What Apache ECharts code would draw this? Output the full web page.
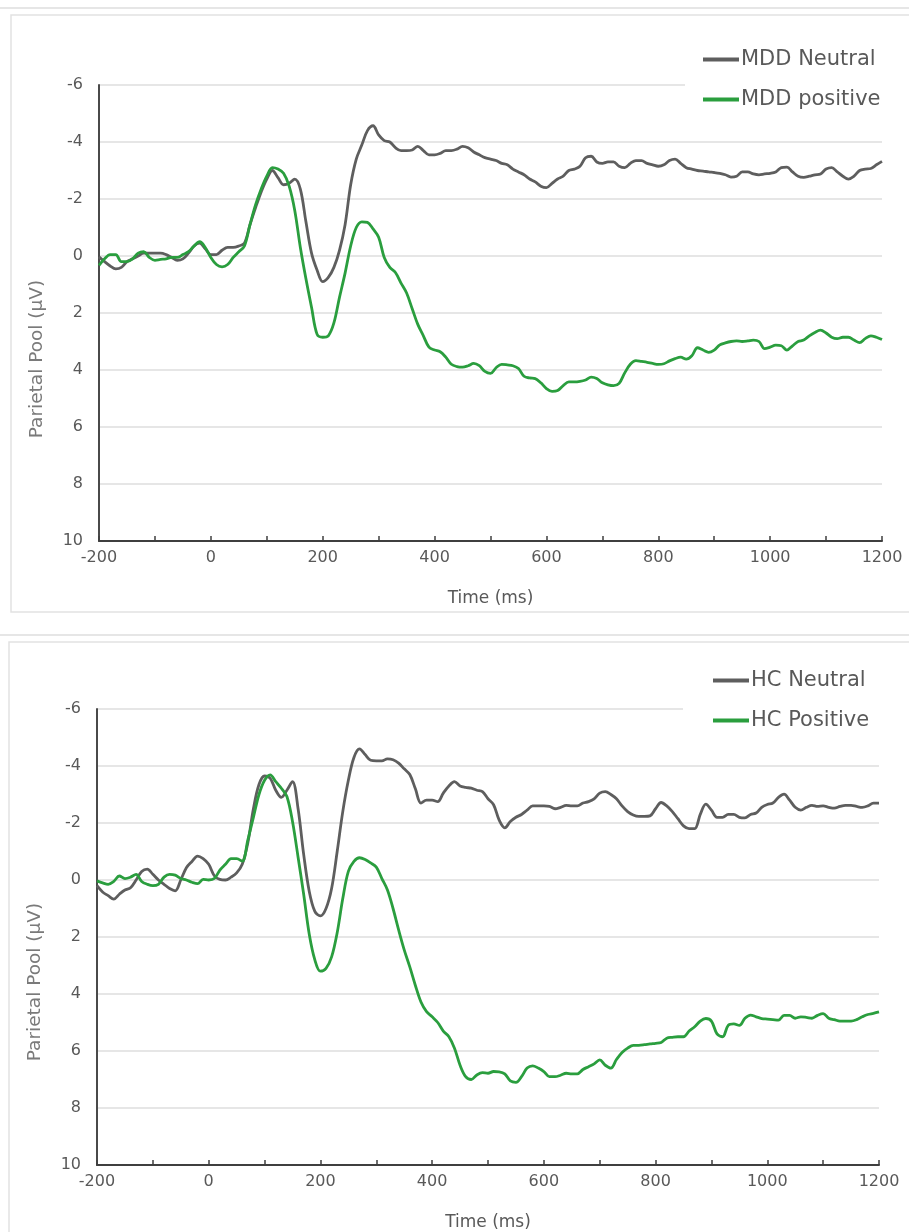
<!DOCTYPE html>
<html>
<head>
<meta charset="utf-8">
<title>Parietal Pool ERP</title>
<script src="https://cdn.jsdelivr.net/npm/echarts@6/dist/echarts.min.js"></script>
<style>
  html, body { margin: 0; padding: 0; background: #fff; }
  #chart { width: 909px; height: 1232px; }
</style>
</head>
<body>
<div id="chart"></div>
<script>
// Sampling grid: -200 ms to 1200 ms every 10 ms (141 samples)
const TIMES = Array.from({ length: 141 }, (_, i) => -200 + i * 10);

const X_TICKS = [-200, 0, 200, 400, 600, 800, 1000, 1200];
const Y_TICKS = [-6, -4, -2, 0, 2, 4, 6, 8, 10];

// Parietal pool amplitude (µV), MDD group
const mddNeutral = [
  0.03, 0.2, 0.35, 0.45, 0.4, 0.2, 0.1, 0.0, -0.1, -0.1,
  -0.1, -0.1, -0.05, 0.05, 0.15, 0.1, -0.1, -0.35, -0.45, -0.25,
  -0.05, -0.05, -0.2, -0.3, -0.3, -0.35, -0.45, -1.1, -1.7, -2.25,
  -2.7, -3.0, -2.75, -2.5, -2.55, -2.7, -2.35, -1.2, -0.1, 0.5,
  0.9, 0.75, 0.4, -0.2, -1.1, -2.5, -3.4, -3.9, -4.4, -4.57,
  -4.25, -4.05, -4.0, -3.8, -3.7, -3.7, -3.72, -3.85, -3.7, -3.55,
  -3.55, -3.6, -3.7, -3.7, -3.75, -3.85, -3.8, -3.65, -3.55, -3.45,
  -3.4, -3.35, -3.25, -3.2, -3.05, -2.95, -2.85, -2.7, -2.6, -2.45,
  -2.4, -2.55, -2.7, -2.8, -3.0, -3.05, -3.15, -3.45, -3.5, -3.3,
  -3.25, -3.3, -3.3, -3.15, -3.1, -3.25, -3.35, -3.35, -3.25, -3.2,
  -3.15, -3.2, -3.35, -3.4, -3.25, -3.1, -3.05, -3.0, -2.98, -2.95,
  -2.93, -2.9, -2.85, -2.77, -2.8, -2.95, -2.95, -2.88, -2.85, -2.88,
  -2.9, -2.95, -3.1, -3.12, -2.95, -2.8, -2.76, -2.8, -2.85, -2.88,
  -3.05, -3.1, -2.95, -2.8, -2.7, -2.8, -3.0, -3.05, -3.07, -3.2,
  -3.32
];
const mddPositive = [
  0.33, 0.1, -0.05, -0.05, 0.2, 0.2, 0.1, -0.1, -0.15, 0.05,
  0.15, 0.12, 0.1, 0.05, 0.05, -0.05, -0.15, -0.35, -0.5, -0.3,
  0.05, 0.3, 0.38, 0.3, 0.05, -0.15, -0.35, -1.1, -1.8, -2.35,
  -2.8, -3.1, -3.05, -2.9, -2.45, -1.6, -0.3, 0.8, 1.8, 2.75,
  2.85, 2.8, 2.35, 1.45, 0.6, -0.35, -1.0, -1.2, -1.18, -0.95,
  -0.66, 0.05, 0.4, 0.58, 0.95, 1.3, 1.85, 2.4, 2.8, 3.2,
  3.3, 3.36, 3.55, 3.8, 3.88, 3.9, 3.85, 3.77, 3.85, 4.05,
  4.12, 3.92, 3.8, 3.82, 3.85, 3.95, 4.22, 4.28, 4.3, 4.45,
  4.65, 4.75, 4.72, 4.55, 4.42, 4.42, 4.4, 4.35, 4.25, 4.3,
  4.45, 4.52, 4.55, 4.47, 4.1, 3.8, 3.67, 3.7, 3.73, 3.77,
  3.8, 3.78, 3.68, 3.6, 3.55, 3.62, 3.5, 3.22, 3.3, 3.38,
  3.3, 3.12, 3.05, 3.0, 2.98, 3.0, 2.98, 2.95, 3.0, 3.25,
  3.2, 3.13, 3.15, 3.3, 3.15, 3.0, 2.95, 2.8, 2.68, 2.6,
  2.7, 2.85, 2.9, 2.85, 2.85, 2.95, 3.04, 2.9, 2.8, 2.85,
  2.93
];

// Parietal pool amplitude (µV), healthy control group
const hcNeutral = [
  0.2, 0.42, 0.55, 0.67, 0.5, 0.35, 0.27, 0.0, -0.3, -0.38,
  -0.2, 0.0, 0.15, 0.3, 0.38, 0.0, -0.43, -0.65, -0.84, -0.75,
  -0.55, -0.15, -0.02, 0.0, -0.1, -0.25, -0.55, -1.3, -2.5, -3.35,
  -3.65, -3.57, -3.15, -2.9, -3.15, -3.45, -2.5, -0.9, 0.4, 1.1,
  1.26, 1.0, 0.3, -1.0, -2.4, -3.5, -4.3, -4.6, -4.4, -4.2,
  -4.18, -4.18, -4.25, -4.22, -4.1, -3.9, -3.7, -3.2, -2.7, -2.8,
  -2.8, -2.75, -3.05, -3.3, -3.45, -3.3, -3.25, -3.22, -3.15, -3.1,
  -2.85, -2.64, -2.1, -1.83, -2.05, -2.2, -2.3, -2.45, -2.6, -2.6,
  -2.6, -2.58, -2.5, -2.55, -2.62, -2.6, -2.6, -2.7, -2.75, -2.85,
  -3.05, -3.1, -3.0, -2.85, -2.6, -2.4, -2.28, -2.23, -2.23, -2.25,
  -2.5, -2.72, -2.6, -2.4, -2.15, -1.9, -1.8, -1.8, -2.3, -2.66,
  -2.45, -2.2, -2.2, -2.3, -2.3, -2.2, -2.18, -2.3, -2.35, -2.55,
  -2.65, -2.7, -2.9, -3.01, -2.8, -2.55, -2.45, -2.55, -2.62, -2.58,
  -2.6, -2.55, -2.52, -2.58, -2.62, -2.62, -2.58, -2.55, -2.6, -2.7,
  -2.7
];
const hcPositive = [
  0.03, 0.1, 0.15, 0.05, -0.14, -0.05, -0.1, -0.2, 0.05, 0.15,
  0.2, 0.15, -0.1, -0.2, -0.17, -0.05, 0.0, 0.08, 0.13, -0.02,
  0.0, -0.05, -0.35, -0.55, -0.75, -0.75, -0.66, -1.4, -2.2, -3.0,
  -3.5, -3.69, -3.45, -3.22, -2.93, -2.05, -0.8, 0.5, 1.9, 2.8,
  3.2, 3.1, 2.7, 1.85, 0.65, -0.3, -0.65, -0.78, -0.72, -0.6,
  -0.45, -0.05, 0.35, 1.0, 1.75, 2.45, 3.05, 3.7, 4.28, 4.62,
  4.8, 5.0, 5.3, 5.5, 5.9, 6.5, 6.9, 7.0, 6.84, 6.76,
  6.78, 6.72, 6.73, 6.8, 7.05, 7.1, 6.9, 6.6, 6.52, 6.6,
  6.72, 6.9, 6.9, 6.85, 6.78, 6.8, 6.8, 6.65, 6.55, 6.45,
  6.31, 6.5, 6.6, 6.3, 6.05, 5.9, 5.8, 5.8, 5.78, 5.75,
  5.73, 5.7, 5.55, 5.52, 5.5, 5.5, 5.3, 5.15, 4.95, 4.86,
  4.95, 5.4, 5.5, 5.1, 5.05, 5.1, 4.85, 4.74, 4.8, 4.86,
  4.88, 4.9, 4.92, 4.75, 4.75, 4.85, 4.8, 4.82, 4.85, 4.75,
  4.69, 4.85, 4.9, 4.95, 4.95, 4.95, 4.9, 4.8, 4.72, 4.68,
  4.63
];

const GRAY = '#5e5e5e';
const GREEN = '#2a9e3e';
const TEXT = '#595959';
const TITLE = '#7a7a7a';
const FONT = '"DejaVu Sans", Verdana, sans-serif';
const Y_TITLE = 'Parietal Pool (µV)';

const pairs = vals => TIMES.map((t, i) => [t, vals[i]]);

function xAxisFor(gridIndex) {
  return {
    type: 'value', gridIndex,
    min: X_TICKS[0], max: X_TICKS[X_TICKS.length - 1], interval: 100,
    name: 'Time (ms)', nameLocation: 'middle', nameGap: 49,
    nameTextStyle: { color: TEXT, fontSize: 17, fontFamily: FONT },
    axisLine: { onZero: false, lineStyle: { color: '#3f3f3f', width: 2 } },
    axisTick: { show: true, inside: true, length: 5, lineStyle: { color: '#3f3f3f', width: 1.5 } },
    axisLabel: {
      margin: 9, color: TEXT, fontSize: 16, fontFamily: FONT,
      formatter: v => (X_TICKS.indexOf(v) >= 0 ? String(v) : '')
    },
    splitLine: { show: false }
  };
}

function yAxisFor(gridIndex) {
  return {
    type: 'value', gridIndex, inverse: true,
    min: Y_TICKS[0], max: Y_TICKS[Y_TICKS.length - 1], interval: 2,
    axisLine: { show: true, onZero: false, lineStyle: { color: '#4a4a4a', width: 2 } },
    axisTick: { show: false },
    axisLabel: { margin: 16, color: TEXT, fontSize: 16, fontFamily: FONT },
    splitLine: { show: true, lineStyle: { color: '#dedede', width: 1.6 } }
  };
}

function lineSeries(name, vals, color, idx) {
  return {
    name, type: 'line', xAxisIndex: idx, yAxisIndex: idx,
    data: pairs(vals), showSymbol: false, smooth: 0.35,
    lineStyle: { color, width: 2.8 }, itemStyle: { color },
    emphasis: { disabled: true }, animation: false
  };
}

function legendFor(names, left, top) {
  return {
    data: names, orient: 'vertical', left, top, padding: 0, z: 6,
    icon: 'rect', itemWidth: 36, itemHeight: 4, itemGap: 19,
    textStyle: { color: TEXT, fontSize: 21, lineHeight: 21, fontFamily: FONT, padding: [0, 0, 0, -3] }
  };
}

// Rotated y-axis caption placed beside each plot
function yTitle(x, y) {
  return {
    type: 'text', x, y, rotation: Math.PI / 2, z: 5,
    style: { text: Y_TITLE, fill: TITLE, font: '18.5px ' + FONT, align: 'center', verticalAlign: 'middle' }
  };
}

const chart = echarts.init(document.getElementById('chart'), null, { renderer: 'canvas' });
chart.setOption({
  backgroundColor: '#ffffff',
  animation: false,
  graphic: [
    // panel frames
    { type: 'line', z: -10, shape: { x1: 0, y1: 8, x2: 909, y2: 8 }, style: { stroke: '#e6e6e6', lineWidth: 2 } },
    { type: 'rect', z: -10, shape: { x: 11, y: 15, width: 920, height: 597 }, style: { fill: 'none', stroke: '#e2e2e2', lineWidth: 1.5 } },
    { type: 'line', z: -10, shape: { x1: 0, y1: 635, x2: 909, y2: 635 }, style: { stroke: '#e6e6e6', lineWidth: 2 } },
    { type: 'rect', z: -10, shape: { x: 9, y: 642, width: 920, height: 620 }, style: { fill: 'none', stroke: '#e2e2e2', lineWidth: 1.5 } },
    // top gridline stops short of the legend block (drawn under the legend)
    { type: 'rect', z: 1, shape: { x: 685, y: 80, width: 224, height: 10 }, style: { fill: '#ffffff' } },
    { type: 'rect', z: 1, shape: { x: 683, y: 704, width: 226, height: 10 }, style: { fill: '#ffffff' } },
    yTitle(37, 359),
    yTitle(35, 982)
  ],
  grid: [
    { left: 99, top: 85, width: 783, height: 456 },
    { left: 97, top: 709, width: 782, height: 456 }
  ],
  xAxis: [xAxisFor(0), xAxisFor(1)],
  yAxis: [yAxisFor(0), yAxisFor(1)],
  legend: [
    legendFor(['MDD Neutral', 'MDD positive'], 703, 49),
    legendFor(['HC Neutral', 'HC Positive'], 713, 670)
  ],
  series: [
    lineSeries('MDD Neutral', mddNeutral, GRAY, 0),
    lineSeries('MDD positive', mddPositive, GREEN, 0),
    lineSeries('HC Neutral', hcNeutral, GRAY, 1),
    lineSeries('HC Positive', hcPositive, GREEN, 1)
  ]
});
</script>
</body>
</html>
